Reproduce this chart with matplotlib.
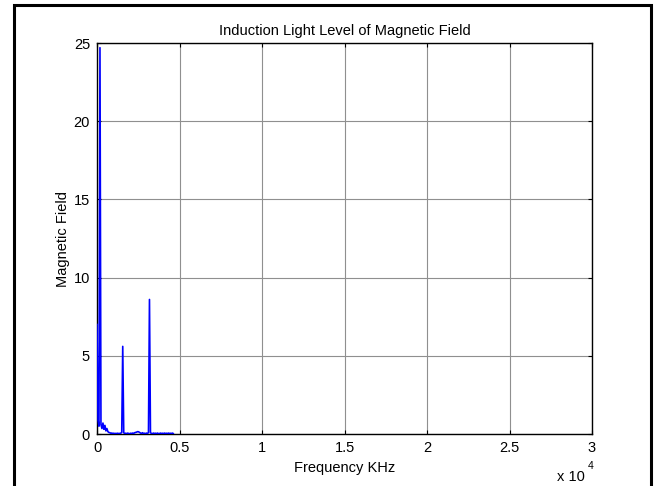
import numpy as np
import matplotlib
matplotlib.use("Agg")
import matplotlib.pyplot as plt
from matplotlib.patches import Rectangle

plt.rcParams['font.family'] = ['Liberation Sans', 'DejaVu Sans']

# Spectrum samples: frequency bins (Hz) and magnitude
freq_hz = np.arange(0, 4621, 60)
magnitude = [
    7.0, 0.9, 0.5, 24.7, 0.6, 0.35, 0.7, 0.3, 0.55, 0.2,
    0.35, 0.15, 0.1, 0.08, 0.05, 0.06, 0.03, 0.05, 0.02, 0.04,
    0.03, 0.05, 0.02, 0.04, 0.05, 0.1, 5.6, 0.08, 0.03, 0.05,
    0.02, 0.06, 0.03, 0.02, 0.05, 0.03, 0.06, 0.04, 0.08, 0.1,
    0.12, 0.15, 0.14, 0.1, 0.06, 0.04, 0.08, 0.03, 0.05, 0.02,
    0.06, 0.03, 0.1, 8.6, 0.08, 0.04, 0.02, 0.06, 0.03, 0.05,
    0.02, 0.06, 0.03, 0.02, 0.06, 0.03, 0.05, 0.02, 0.06, 0.03,
    0.05, 0.02, 0.06, 0.03, 0.05, 0.02, 0.06, 0.03,
]

x_ticks = [0, 5000, 10000, 15000, 20000, 25000, 30000]
x_tick_labels = ['0', '0.5', '1', '1.5', '2', '2.5', '3']
y_ticks = [0, 5, 10, 15, 20, 25]

fig = plt.figure(figsize=(6.56, 4.86), dpi=100)
ax = fig.add_axes([97 / 656, 1 - 434 / 486, (592 - 97) / 656, (434 - 43) / 486])

ax.plot(freq_hz, magnitude, color='#0000ff', lw=1.2, zorder=3)

ax.set_xlim(0, 30000)
ax.set_ylim(0, 25)
ax.set_xticks(x_ticks)
ax.set_xticklabels(x_tick_labels)
ax.set_yticks(y_ticks)
ax.grid(True, color='#8f8f8f', lw=0.8, ls='-')
ax.set_axisbelow(True)

ax.tick_params(direction='in', length=3, width=0.8, top=True, right=True,
               labelsize=10.5, colors='black', pad=5)
for s in ax.spines.values():
    s.set_linewidth(1.0)
    s.set_color('black')

ax.set_title('Induction Light Level of Magnetic Field', fontsize=10.5, pad=6)
ax.set_xlabel('Frequency KHz', fontsize=10.5, labelpad=4)
ax.set_ylabel('Magnetic Field', fontsize=10.5, labelpad=3)

# exponent note for the frequency axis
fig.text(557 / 656, 1 - 477 / 486, 'x 10', fontsize=10.5, va='center', ha='left')
fig.text(588 / 656, 1 - 466 / 486, '4', fontsize=7.5, va='center', ha='left')

# outer frame
fig.patches.append(Rectangle((13.5 / 656, -0.05), (651 - 13.5) / 656, 1.05 - 5.5 / 486,
                             transform=fig.transFigure, fill=False,
                             edgecolor='black', lw=2.2))

fig.savefig('out.png', dpi=100)
